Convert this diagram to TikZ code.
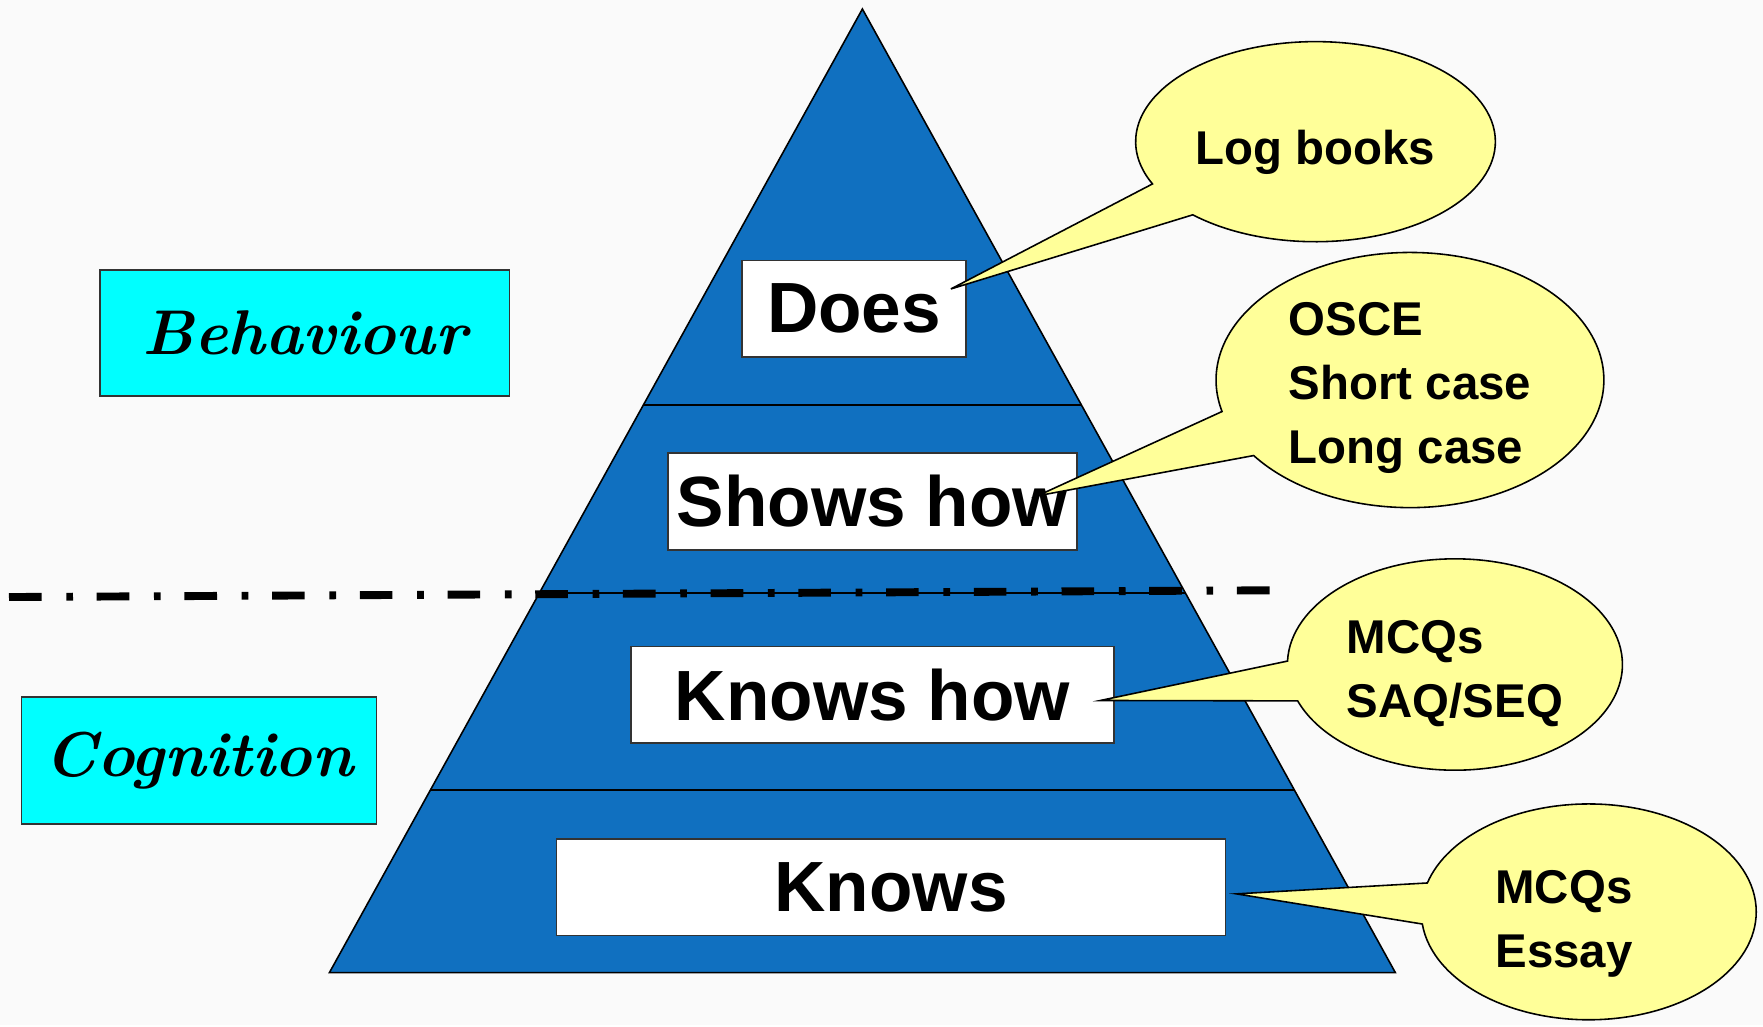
\documentclass[tikz,border=0pt]{standalone}
\usepackage{fontspec}
\setsansfont{Liberation Sans}
\usetikzlibrary{shapes.callouts, calc, positioning}

\definecolor{pyrblue}{RGB}{16,112,192}
\definecolor{bubbleyellow}{RGB}{255,255,153}
\definecolor{sidecyan}{RGB}{0,255,255}
\definecolor{bgpaper}{RGB}{250,250,250}

% bubble text, lowered a little inside its ellipse
\newcommand{\bubbletext}[2][0pt]{\raisebox{#1}[\height][\depth]{\begin{tabular}{@{}l@{}}#2\end{tabular}}}

\begin{document}
\begin{tikzpicture}[
  x=0.02cm, y=-0.02cm,
  level/.style={draw=black!80, line width=0.8pt, fill=white, minimum height=1.72cm, inner sep=0pt, font=\sffamily\bfseries\fontsize{36}{43}\selectfont},
  side/.style={draw=black!80, line width=0.8pt, fill=sidecyan, inner sep=0pt, font=\rmfamily\bfseries\itshape\fontsize{32}{40}\selectfont},
  bubble/.style={ellipse callout, draw, line width=0.8pt, fill=bubbleyellow, inner sep=0pt, callout pointer arc=22, font=\sffamily\bfseries\fontsize{24}{32.4}\selectfont},
  divider/.style={line width=1pt},
  boundary/.style={line width=4pt, dash pattern=on 16.5pt off 12.5pt on 3.4pt off 12pt}
]

% Background
\fill[bgpaper] (0,0) rectangle (1568,912);

% Pyramid
\coordinate (apex) at (767,8);
\coordinate (base left) at (293,865);
\coordinate (base right) at (1241,865);
\draw[fill=pyrblue, line width=0.8pt] (apex) -- (base right) -- (base left) -- cycle;

% Level dividers
\foreach \t in {0.4107, 0.6056, 0.811}
  \draw[divider] ($(apex)!\t!(base left)$) -- ($(apex)!\t!(base right)$);

% Behaviour / cognition boundary
\coordinate (boundary start) at (8,531);
\coordinate (boundary end) at (1130,525);
\draw[boundary] (boundary start) -- (boundary end);

% Levels of the pyramid
\node[level, minimum width=3.98cm] (does) at (759.5,274.5) {Does};
\node[level, minimum width=7.28cm] (showshow) at (776,446) {Shows how};
\node[level, minimum width=8.6cm] (knowshow) at (776,618) {Knows how};
\node[level, minimum width=11.9cm] (knows) at (792.5,789) {Knows};

% Side labels
\node[side, minimum width=7.28cm, minimum height=2.24cm] (behaviour) at (271,296) {Behaviour};
\node[side, minimum width=6.32cm, minimum height=2.26cm] (cognition) at (177,676.5) {Cognition};

% Assessment bubbles
\node[bubble, minimum width=6.4cm, minimum height=3.56cm,
  callout absolute pointer={($(does.east)+(-14,-17.5)$)}] (logbooks) at (1170,126) {\bubbletext[-5pt]{Log books}};
\node[bubble, minimum width=6.9cm, minimum height=4.54cm, inner ysep=-8pt,
  callout absolute pointer={($(showshow.east)+(-36,-5)$)}] (osce) at (1254,338) {\bubbletext[-3.5pt]{OSCE\\Short case\\Long case}};
\node[bubble, minimum width=5.96cm, minimum height=3.76cm,
  callout absolute pointer={($(knowshow.east)+(-13,5)$)}] (saq) at (1294,591) {\bubbletext[-4pt]{MCQs\\SAQ/SEQ}};
\node[bubble, minimum width=5.96cm, minimum height=3.84cm,
  callout absolute pointer={($(knows.east)+(9,6)$)}] (essay) at (1413,811) {\hspace*{-25pt}\bubbletext[-5.5pt]{MCQs\\Essay}};

\end{tikzpicture}
\end{document}
